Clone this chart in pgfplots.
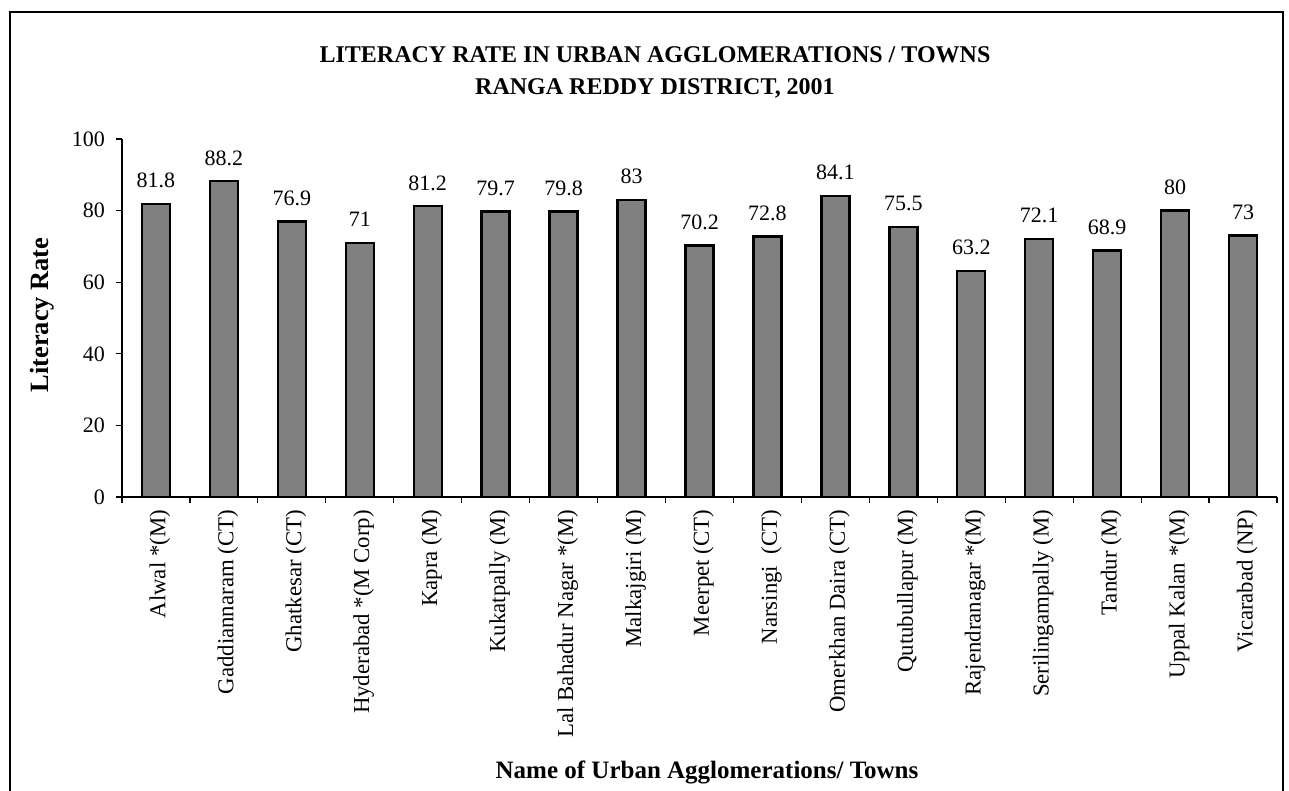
\documentclass[border=0pt]{standalone}
\usepackage{fontspec}
\setmainfont{Liberation Serif}
\usepackage{pgfplots}
\pgfplotsset{compat=1.18}
\begin{document}
\begin{tikzpicture}[x=0.5pt,y=0.5pt]
\useasboundingbox (0,0) rectangle (1289,791);
\draw[line width=0.6pt] (10,779) rectangle (1283,-39);
\node[font=\bfseries\fontsize{12}{16}\selectfont, align=center] at (655,719) {LITERACY RATE IN URBAN AGGLOMERATIONS / TOWNS\\RANGA REDDY DISTRICT, 2001};
\node[font=\bfseries\fontsize{13.2}{15}\selectfont, rotate=90] at (42,476) {Literacy Rate};
\node[font=\bfseries\fontsize{12.5}{14}\selectfont] at (707,19) {Name of Urban Agglomerations/ Towns};
\begin{axis}[
  at={(122pt*0.5,294pt*0.5)}, anchor=south west,
  scale only axis, width=577.5pt, height=179pt,
  ybar, bar width=14pt,
  ymin=0, ymax=100, ytick={0,20,40,60,80,100},
  xmin=-0.5, xmax=16.5,
  xtick={0,...,16},
  xticklabels={Alwal *(M), Gaddiannaram (CT), Ghatkesar (CT), Hyderabad *(M Corp), Kapra (M), Kukatpally (M), Lal Bahadur Nagar *(M), Malkajgiri (M), Meerpet (CT), Narsingi\ \ (CT), Omerkhan Daira (CT), Qutubullapur (M), Rajendranagar *(M), Serilingampally (M), Tandur (M), Uppal Kalan *(M), Vicarabad (NP)},
  minor xtick={-0.5,0.5,...,16.5},
  major x tick style={draw=none},
  minor tick length=3pt, major tick length=3pt,
  tick align=outside,
  axis x line*=bottom, axis y line*=left,
  axis line style={line width=0.6pt},
  every tick/.style={black, line width=0.6pt},
  x tick label style={rotate=90, anchor=east, font=\fontsize{11.4}{13}\selectfont, yshift=-2pt},
  y tick label style={font=\fontsize{11}{13}\selectfont, xshift=-2pt},
  /pgf/number format/assume math mode=true,
  nodes near coords,
  every node near coord/.append style={font=\fontsize{11}{13}\selectfont, yshift=4pt},
  clip=false,
]
\addplot[fill=black!50, draw=black, line width=1.2pt] coordinates {
(0,81.8) (1,88.2) (2,76.9) (3,71) (4,81.2) (5,79.7) (6,79.8) (7,83) (8,70.2) (9,72.8) (10,84.1) (11,75.5) (12,63.2) (13,72.1) (14,68.9) (15,80) (16,73)};
\end{axis}
\end{tikzpicture}
\end{document}
